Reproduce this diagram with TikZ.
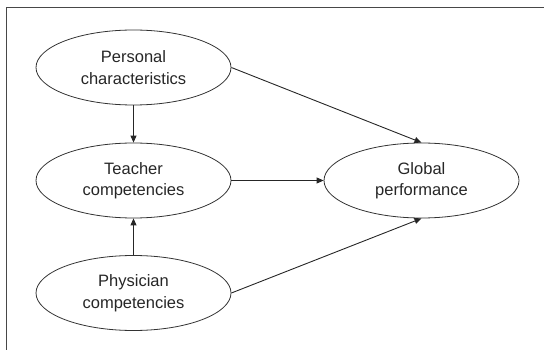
\documentclass[tikz,border=0pt]{standalone}
\usepackage{fontspec}
\setmainfont{Liberation Sans}
\usetikzlibrary{shapes.geometric,arrows.meta}
\begin{document}
\begin{tikzpicture}[x=1pt,y=-1pt,
  construct/.style={ellipse,draw=black!80,line width=0.8pt,minimum width=195pt,minimum height=75pt,
    align=center,inner sep=0pt,font=\fontsize{16.5pt}{21.5pt}\selectfont,text=black!85},
  link/.style={draw=black!85,line width=0.9pt,-{Triangle[length=7pt,width=6pt]}}]
  \useasboundingbox (0,0) rectangle (544,350);
  % partial frame around the figure
  \draw[black!72,line width=1.6pt] (6.5,350) -- (6.5,7.5) -- (544,7.5);
  \node[construct] (pers) at (133.5,67.5) {Personal\\characteristics};
  \node[construct] (teach) at (133.5,180.5) {Teacher\\competencies};
  \node[construct] (phys) at (133.5,293) {Physician\\competencies};
  \node[construct] (glob) at (421.5,180.5) {Global\\performance};
  \draw[link] (pers.south) -- (teach.north);
  \draw[link] (phys.north) -- (teach.south);
  \draw[link] (teach.east) -- (glob.west);
  \draw[link] (pers.east) -- (glob.north);
  \draw[link] (phys.east) -- (glob.south);
\end{tikzpicture}
\end{document}
